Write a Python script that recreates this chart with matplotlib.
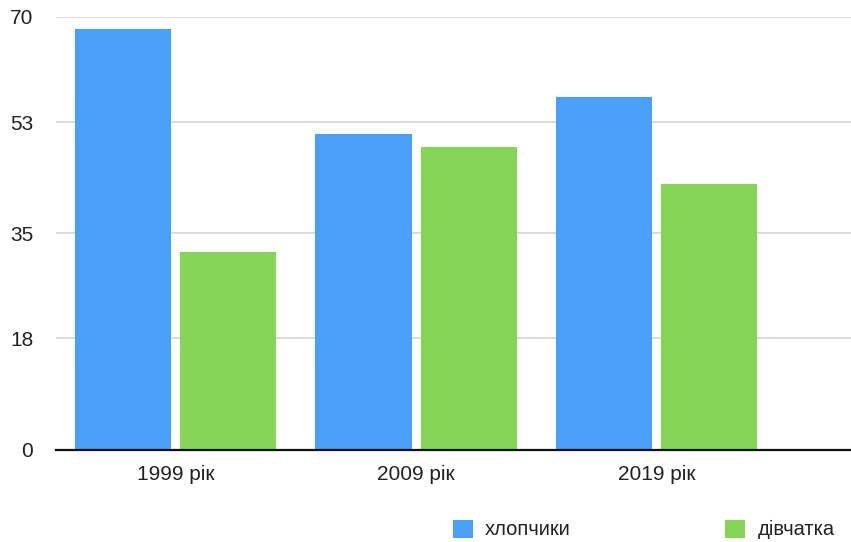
import matplotlib
matplotlib.use("Agg")
import matplotlib.pyplot as plt
import numpy as np

categories = ["1999 рік", "2009 рік", "2019 рік"]
boys = [68, 51, 57]
girls = [32, 49, 43]
series_names = ["хлопчики", "дівчатка"]
yticks = [0, 18, 35, 53, 70]

plt.rcParams['font.family'] = ['Liberation Sans', 'DejaVu Sans']

W, H = 851, 542
fig = plt.figure(figsize=(W/100, H/100), dpi=100)
ax = fig.add_axes([55.5/W, (H-449.7)/H, (W-55.5)/W, (449.7-17)/H])

x = np.arange(len(categories))
bw = 0.4
off = 0.219
b1 = ax.bar(x - off, boys, bw, color='#4A9FF8', label=series_names[0], zorder=3)
b2 = ax.bar(x + off, girls, bw, color='#85D657', label=series_names[1], zorder=3)

ax.set_xlim(-0.5, 2.808)
ax.set_ylim(0, 70)
ax.set_yticks(yticks)
ax.set_yticklabels([str(v) for v in yticks])
ax.set_xticks(x)
ax.set_xticklabels(categories)
ax.tick_params(axis='y', length=0, pad=16, labelsize=15, labelcolor='#222222')
ax.tick_params(axis='x', length=0, pad=11, labelsize=15, labelcolor='#222222')
ax.yaxis.grid(True, color='#d6d6d6', linewidth=1.2, zorder=0)
ax.set_axisbelow(True)
for s in ['top', 'right', 'left']:
    ax.spines[s].set_visible(False)
ax.spines['bottom'].set_linewidth(1.6)
ax.spines['bottom'].set_color('#111111')
ax.spines['bottom'].set_zorder(4)

leg = fig.legend(handles=[b1, b2], labels=series_names, ncol=2, frameon=False,
                 loc='center left', bbox_to_anchor=(453/W, (H-529.5)/H),
                 borderaxespad=0, borderpad=0, fontsize=14.5,
                 handlelength=1.0, handleheight=1.0, handletextpad=0.6,
                 columnspacing=7.66, labelcolor='#222222')

fig.savefig("out.png", dpi=100)
